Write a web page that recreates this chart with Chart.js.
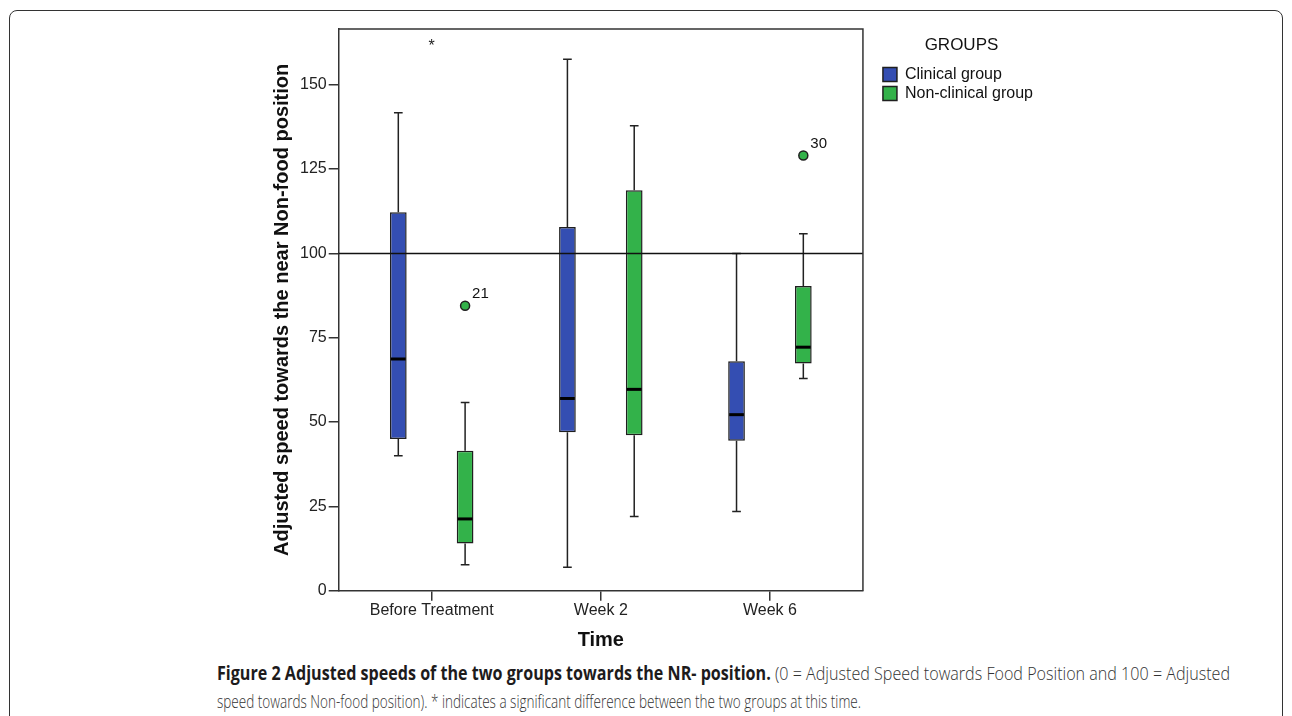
<!DOCTYPE html>
<html>
<head>
<meta charset="utf-8">
<script src="https://cdn.jsdelivr.net/npm/chart.js@4.4.1/dist/chart.umd.min.js"></script>
<style>
  html, body { margin: 0; padding: 0; background: #fff; }
  body { width: 1292px; height: 716px; position: relative; overflow: hidden; }
  #frame {
    position: absolute; left: 9px; top: 10px; width: 1274px; height: 730px;
    border: 1.5px solid #333; border-radius: 8px; box-sizing: border-box;
  }
  #wrap { position: absolute; left: 250px; top: 14px; width: 820px; height: 645px; }
  .line {
    position: absolute; left: 217px; white-space: nowrap;
    font-family: "Open Sans", "Noto Sans", sans-serif; font-size: 19px;
    color: #333; font-weight: 300; transform-origin: 0 50%;
  }
  .line b { font-weight: 700; color: #1d1b1c; }
  #l1 { top: 660px; }
  #l2 { top: 688px; }
</style>
</head>
<body>
<div id="frame"></div>
<div id="wrap"><canvas id="chart-box"></canvas></div>
<div class="line" id="l1" data-w="1013"><b>Figure 2 Adjusted speeds of the two groups towards the NR- position.</b> (0 = Adjusted Speed towards Food Position and 100 = Adjusted</div>
<div class="line" id="l2" data-w="644">speed towards Non-food position). * indicates a significant difference between the two groups at this time.</div>
<script>
// Catégories et valeurs
const categories = ["Before Treatment", "Week 2", "Week 6"];
const yTicks = [0, 25, 50, 75, 100, 125, 150];

// Groupe clinique
const clinicalMin = [40, 7, 23.5];
const clinicalQ1 = [45, 47, 44.5];
const clinicalMedian = [68.7, 57, 52.2];
const clinicalQ3 = [112.2, 107.8, 68];
const clinicalMax = [141.7, 157.5, 100];

// Groupe non clinique
const nonClinicalMin = [7.7, 22, 62.9];
const nonClinicalQ1 = [14, 46.1, 67.4];
const nonClinicalMedian = [21.3, 59.7, 72.2];
const nonClinicalQ3 = [41.5, 118.7, 90.3];
const nonClinicalMax = [55.8, 137.8, 105.8];

// Valeurs aberrantes (groupe non clinique)
const outlierTime = [0, 2];
const outlierValue = [84.5, 129];
const outlierLabel = ["21", "30"];

// Astérisque de significativité
const starTime = 0;
const starValue = 162.6;
const refValue = 100;

const BLUE = "#344eb2";
const GREEN = "#33b24a";
const INK = "#1f1f1f";
const FONT = '"Liberation Sans", Arial, sans-serif';

const boxPlugin = {
  id: "boxPlugin",
  afterLayout(chart) {
    // décale la légende pour laisser un espace après le cadre
    if (chart.legend) {
      chart.legend.left += 17;
      chart.legend.right += 17;
    }
  },
  afterDatasetsDraw(chart) {
    const { ctx, chartArea, scales } = chart;
    const x = scales.x, y = scales.y;
    const groups = [
      [clinicalMin, clinicalMedian, clinicalMax],
      [nonClinicalMin, nonClinicalMedian, nonClinicalMax]
    ];
    const q1s = [clinicalQ1, nonClinicalQ1];
    const q3s = [clinicalQ3, nonClinicalQ3];
    ctx.save();

    groups.forEach((g, d) => {
      const meta = chart.getDatasetMeta(d);
      meta.data.forEach((bar, i) => {
        const half = bar.width / 2;
        const cap = bar.width * 0.26;
        const yMin = y.getPixelForValue(g[0][i]);
        const yMed = y.getPixelForValue(g[1][i]);
        const yMax = y.getPixelForValue(g[2][i]);
        const yQ1 = y.getPixelForValue(q1s[d][i]);
        const yQ3 = y.getPixelForValue(q3s[d][i]);

        // moustaches
        ctx.strokeStyle = "#222";
        ctx.lineWidth = 1.5;
        ctx.beginPath();
        ctx.moveTo(bar.x, yMax); ctx.lineTo(bar.x, yQ3);
        ctx.moveTo(bar.x, yQ1); ctx.lineTo(bar.x, yMin);
        ctx.moveTo(bar.x - cap, yMax); ctx.lineTo(bar.x + cap, yMax);
        ctx.moveTo(bar.x - cap, yMin); ctx.lineTo(bar.x + cap, yMin);
        ctx.stroke();

        // médiane
        ctx.strokeStyle = "#000";
        ctx.lineWidth = 3;
        ctx.beginPath();
        ctx.moveTo(bar.x - half + 1, yMed); ctx.lineTo(bar.x + half - 1, yMed);
        ctx.stroke();
      });
    });

    // ligne de référence à 100
    const yRef = y.getPixelForValue(refValue);
    ctx.strokeStyle = "#111";
    ctx.lineWidth = 1.5;
    ctx.beginPath();
    ctx.moveTo(chartArea.left, yRef); ctx.lineTo(chartArea.right, yRef);
    ctx.stroke();

    // cadre haut et droite
    ctx.strokeStyle = "#333";
    ctx.beginPath();
    ctx.moveTo(chartArea.left, chartArea.top); ctx.lineTo(chartArea.right, chartArea.top);
    ctx.lineTo(chartArea.right, chartArea.bottom);
    ctx.stroke();

    // valeurs aberrantes
    const meta1 = chart.getDatasetMeta(1);
    outlierTime.forEach((t, k) => {
      const px = meta1.data[t].x;
      const py = y.getPixelForValue(outlierValue[k]);
      ctx.beginPath();
      ctx.arc(px, py, 4.5, 0, Math.PI * 2);
      ctx.fillStyle = GREEN;
      ctx.fill();
      ctx.strokeStyle = INK;
      ctx.lineWidth = 1.5;
      ctx.stroke();
      ctx.fillStyle = "#111";
      ctx.font = "15px " + FONT;
      ctx.textAlign = "left";
      ctx.textBaseline = "alphabetic";
      ctx.fillText(outlierLabel[k], px + 7, py - 8);
    });

    // astérisque
    ctx.fillStyle = "#222";
    ctx.font = "16px " + FONT;
    ctx.textAlign = "center";
    ctx.textBaseline = "alphabetic";
    ctx.fillText("*", x.getPixelForValue(starTime), y.getPixelForValue(starValue) + 9);

    ctx.restore();
  }
};

function boxData(q1, q3) {
  return categories.map((c, i) => ({ x: i, y: [q1[i], q3[i]] }));
}

new Chart(document.getElementById("chart-box"), {
  type: "bar",
  data: {
    datasets: [
      {
        label: "Clinical group",
        data: boxData(clinicalQ1, clinicalQ3),
        backgroundColor: BLUE,
        borderColor: INK,
        borderWidth: 1.5,
        borderSkipped: false
      },
      {
        label: "Non-clinical group",
        data: boxData(nonClinicalQ1, nonClinicalQ3),
        backgroundColor: GREEN,
        borderColor: INK,
        borderWidth: 1.5,
        borderSkipped: false
      }
    ]
  },
  options: {
    responsive: true,
    maintainAspectRatio: false,
    animation: false,
    categoryPercentage: 0.79,
    barPercentage: 0.25,
    layout: { padding: { left: 16, top: 15, bottom: 3, right: 44 } },
    scales: {
      x: {
        type: "linear",
        min: -0.55,
        max: 2.55,
        offset: false,
        grid: { display: true, offset: false, drawOnChartArea: false, drawTicks: true, tickLength: 10, color: "#333", lineWidth: 1.5 },
        border: { display: true, color: "#333", width: 1.5 },
        ticks: {
          stepSize: 1,
          includeBounds: false,
          color: "#222",
          padding: 0,
          font: { family: FONT, size: 16 },
          callback: v => categories[v] !== undefined ? categories[v] : ""
        },
        title: {
          display: true,
          text: "Time",
          color: "#111",
          padding: { top: 8, bottom: 4 },
          font: { family: FONT, size: 20, weight: "bold" }
        }
      },
      y: {
        min: 0,
        max: 166.5,
        afterBuildTicks: axis => { axis.ticks = yTicks.map(v => ({ value: v })); },
        grid: { display: true, drawOnChartArea: false, drawTicks: true, tickLength: 10, color: "#333", lineWidth: 1.5 },
        border: { display: true, color: "#333", width: 1.5 },
        ticks: { color: "#222", padding: 2, font: { family: FONT, size: 16 } },
        title: {
          display: true,
          text: "Adjusted speed towards the near Non-food position",
          color: "#111",
          font: { family: FONT, size: 20, weight: "bold" }
        }
      }
    },
    plugins: {
      legend: {
        position: "right",
        align: "start",
        title: { display: true, text: "GROUPS", color: "#111", padding: { top: 8, bottom: 6 }, font: { family: FONT, size: 17 } },
        labels: { boxWidth: 14, boxHeight: 14, padding: 3, color: "#111", font: { family: FONT, size: 16 } }
      },
      tooltip: { enabled: false }
    }
  },
  plugins: [boxPlugin]
});

// Ajustement de la largeur des lignes de légende de la figure
document.querySelectorAll(".line").forEach(el => {
  const target = Number(el.dataset.w);
  const w = el.getBoundingClientRect().width;
  el.style.transform = "scaleX(" + (target / w) + ")";
});
</script>
</body>
</html>
